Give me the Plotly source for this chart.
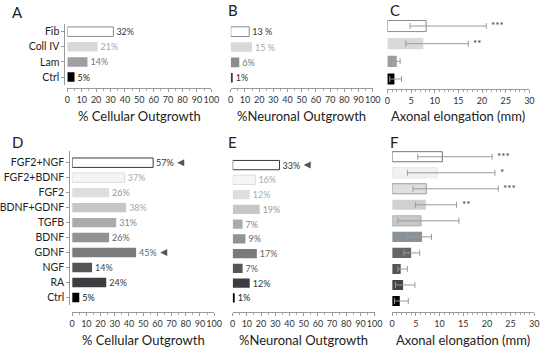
import plotly.graph_objects as go

# ---------------- data ----------------
cats_top = ["Fib", "Coll IV", "Lam", "Ctrl"]
cell_top = [32, 21, 14, 5]
cell_top_lbl = ["32%", "21%", "14%", "5%"]
neur_top = [13, 15, 6, 1]
neur_top_lbl = ["13 %", "15 %", "6%", "1%"]
axon_top = [8.2, 7.6, 2.0, 1.5]
axon_top_lo = [4.8, 3.9, 0.8, 0.5]
axon_top_hi = [20.9, 17.1, 2.7, 3.0]
axon_top_sig = ["***", "**", "", ""]

cats_bot = ["FGF2+NGF", "FGF2+BDNF", "FGF2", "BDNF+GDNF", "TGFB", "BDNF",
            "GDNF", "NGF", "RA", "Ctrl"]
cell_bot = [57, 37, 26, 38, 31, 26, 45, 14, 24, 5]
cell_bot_lbl = ["57%", "37%", "26%", "38%", "31%", "26%", "45%", "14%", "24%", "5%"]
cell_bot_arrow = [True, False, False, False, False, False, True, False, False, False]
neur_bot = [33, 16, 12, 19, 7, 9, 17, 7, 12, 1]
neur_bot_lbl = ["33%", "16%", "12%", "19%", "7%", "9%", "17%", "7%", "12%", "1%"]
neur_bot_arrow = [True, False, False, False, False, False, False, False, False, False]
axon_bot = [10.6, 9.5, 7.2, 7.1, 6.1, 6.3, 4.0, 1.8, 2.3, 1.6]
axon_bot_lo = [5.4, 3.2, 4.4, 4.9, 1.2, 3.1, 2.5, 1.2, 0.7, 0.5]
axon_bot_hi = [21.1, 21.7, 22.4, 13.6, 14.1, 8.3, 5.8, 3.2, 4.8, 3.4]
axon_bot_sig = ["***", "*", "***", "**", "", "", "", "", "", ""]

# ---------------- styles ----------------
FONT = "Lato"
W, H = 550, 349

top_fill = ["#ffffff", "#d9d9d9", "#a09ea4", "#000000"]
top_line = ["#8a8a8a", "#d9d9d9", "#a09ea4", "#000000"]
top_lw = [1, 0, 0, 0]
top_txt_cell = ["#333333", "#a8a8a8", "#777777", "#222222"]
top_txt_neur = ["#333333", "#a8a8a8", "#777777", "#333333"]
b_fill = ["#ffffff", "#d9d9d9", "#8e8c92", "#3a3a3a"]
b_line = ["#8a8a8a", "#d9d9d9", "#8e8c92", "#3a3a3a"]

bot_fill = ["#ffffff", "#f6f4f6", "#dedede", "#c6c6c6", "#ababab", "#8f9396",
            "#7b7b7b", "#56565a", "#3c3c40", "#000000"]
bot_line = ["#3a3a3a", "#dddddd", "#dedede", "#c6c6c6", "#ababab", "#8f9396",
            "#7b7b7b", "#56565a", "#3c3c40", "#000000"]
bot_lw = [1, 1, 0, 0, 0, 0, 0, 0, 0, 0]
bot_txt_cell = ["#333333", "#aaaaaa", "#999999", "#aaaaaa", "#888888", "#666666",
                "#666666", "#444444", "#333333", "#222222"]
bot_txt_neur = ["#333333", "#aaaaaa", "#aaaaaa", "#999999", "#888888", "#666666",
                "#666666", "#555555", "#333333", "#222222"]
f_fill = ["#ffffff", "#f2f2f2", "#e0e0e0", "#d0d0d0", "#c8c8c8", "#8a9299",
          "#666666", "#555555", "#444444", "#000000"]
f_line = ["#777777", "#e6e6e6", "#9a9a9a", "#d0d0d0", "#b0b0b0", "#8a9299",
          "#666666", "#555555", "#444444", "#000000"]
f_lw = [1, 1, 1, 0, 1, 0, 0, 0, 0, 0]


def px(x):
    return x / W


def py(y):
    return 1 - y / H


fig = go.Figure()

panels = {
    "A": dict(n="", xd=(62, 210), yd=(24.1, 84.6), xl=88, rng=100, dt=10, mn=5),
    "B": dict(n="2", xd=(230, 376), yd=(24.0, 85.4), xl=88, rng=100, dt=10, mn=5),
    "C": dict(n="3", xd=(391, 537), yd=(17.2, 87.8), xl=89, rng=30, dt=5, mn=1),
    "D": dict(n="4", xd=(67, 213), yd=(150.6, 305.0), xl=312, rng=100, dt=10, mn=5),
    "E": dict(n="5", xd=(232, 378), yd=(153.1, 305.3), xl=312, rng=100, dt=10, mn=5),
    "F": dict(n="6", xd=(396, 542), yd=(148.7, 309.0), xl=312, rng=30, dt=5, mn=1),
}

axis_titles = {"A": "% Cellular Outgrowth", "B": "%Neuronal Outgrowth",
               "C": "Axonal elongation (mm)", "D": "% Cellular Outgrowth",
               "E": "%Neuronal Outgrowth", "F": "Axonal elongation (mm)"}


def bar_trace(p, cats, vals, fill, line, lw, labels=None, txtcol=None,
              lo=None, hi=None):
    n = panels[p]["n"]
    kw = {}
    if labels is not None:
        kw.update(text=labels, textposition="outside", constraintext="none",
                  cliponaxis=False,
                  outsidetextfont=dict(family=FONT, size=9, color=txtcol))
    if lo is not None:
        kw.update(error_x=dict(type="data", symmetric=False,
                               array=[h - v for h, v in zip(hi, vals)],
                               arrayminus=[v - l for v, l in zip(vals, lo)],
                               color="#9a9a9a", thickness=1, width=3))
    fig.add_trace(go.Bar(y=cats, x=vals, orientation="h", width=0.63,
                         marker=dict(color=fill, line=dict(color=line, width=lw)),
                         xaxis="x" + n, yaxis="y" + n, showlegend=False,
                         hoverinfo="skip", **kw))


bar_trace("A", cats_top, cell_top, top_fill, top_line, top_lw, cell_top_lbl, top_txt_cell)
bar_trace("B", cats_top, neur_top, b_fill, b_line, top_lw, neur_top_lbl, top_txt_neur)
bar_trace("C", cats_top, axon_top, top_fill, top_line, top_lw,
          lo=axon_top_lo, hi=axon_top_hi)
bar_trace("D", cats_bot, cell_bot, bot_fill, bot_line, bot_lw, cell_bot_lbl, bot_txt_cell)
bar_trace("E", cats_bot, neur_bot, bot_fill, bot_line, bot_lw, neur_bot_lbl, bot_txt_neur)
bar_trace("F", cats_bot, axon_bot, f_fill, f_line, f_lw,
          lo=axon_bot_lo, hi=axon_bot_hi)

# arrows
for p, vals, flags in [("D", cell_bot, cell_bot_arrow), ("E", neur_bot, neur_bot_arrow)]:
    n = panels[p]["n"]
    xs = [v + 17 for v, f in zip(vals, flags) if f]
    ys = [c for c, f in zip(cats_bot, flags) if f]
    fig.add_trace(go.Scatter(x=xs, y=ys, mode="markers", xaxis="x" + n, yaxis="y" + n,
                             marker=dict(symbol="arrow-left", size=7, color="#555555",
                                         line=dict(width=0)),
                             cliponaxis=False, showlegend=False, hoverinfo="skip"))

annotations = []
for p, cats, hi, sig in [("C", cats_top, axon_top_hi, axon_top_sig),
                         ("F", cats_bot, axon_bot_hi, axon_bot_sig)]:
    n = panels[p]["n"]
    for c, h, s in zip(cats, hi, sig):
        if s:
            annotations.append(dict(x=h, y=c, xref="x" + n, yref="y" + n, text=s,
                                    showarrow=False, xanchor="left", xshift=3, yshift=1,
                                    font=dict(family=FONT, size=10, color="#333333")))

layout = dict(width=W, height=H, margin=dict(l=0, r=0, t=0, b=0),
              paper_bgcolor="white", plot_bgcolor="white",
              font=dict(family=FONT, color="#222222"))

for p, g in panels.items():
    n = g["n"]
    layout["xaxis" + n] = dict(
        domain=[px(g["xd"][0]), px(g["xd"][1])], range=[0, g["rng"]],
        anchor="free", position=py(g["xl"]), dtick=g["dt"], tick0=0, tickangle=0,
        ticks="outside", ticklen=3, tickcolor="#999999", tickwidth=1,
        minor=dict(dtick=g["mn"], ticks="outside", ticklen=2, tickcolor="#aaaaaa"),
        showline=True, linecolor="#9a9a9a", linewidth=1, showgrid=False,
        zeroline=False, tickfont=dict(family=FONT, size=9, color="#333333"),
        fixedrange=True)
    yd = dict(domain=[py(g["yd"][1]), py(g["yd"][0])], autorange="reversed",
              showgrid=False, zeroline=False, fixedrange=True, type="category")
    if p in ("A", "D"):
        yd.update(anchor="free", position=px(59 if p == "A" else 64),
                  showline=True, linecolor="#9a9a9a", linewidth=1,
                  ticks="outside", ticklen=3, tickcolor="#999999",
                  tickfont=dict(family=FONT, size=10.5, color="#222222"))
    else:
        yd.update(anchor="x" + n, showline=False, showticklabels=False, ticks="")
    layout["yaxis" + n] = yd
    ty = 116 if p in ("A", "B", "C") else 340
    annotations.append(dict(x=px((g["xd"][0] + g["xd"][1]) / 2), y=py(ty), xref="paper",
                            yref="paper", text=axis_titles[p], showarrow=False,
                            xanchor="center", yanchor="middle",
                            font=dict(family=FONT, size=13, color="#222222")))

letters = {"A": (3, 12), "B": (225, 10), "C": (392, 10),
           "D": (3, 142), "E": (225, 142), "F": (392, 142)}
for t, (x, y) in letters.items():
    annotations.append(dict(x=px(x), y=py(y), xref="paper", yref="paper", text=t,
                            showarrow=False, xanchor="left", yanchor="middle",
                            font=dict(family=FONT, size=15, color="#222222")))

layout["annotations"] = annotations
fig.update_layout(**layout)

fig.write_html("out.html", config={"displayModeBar": False},
               post_script="document.body.style.margin='0';")
